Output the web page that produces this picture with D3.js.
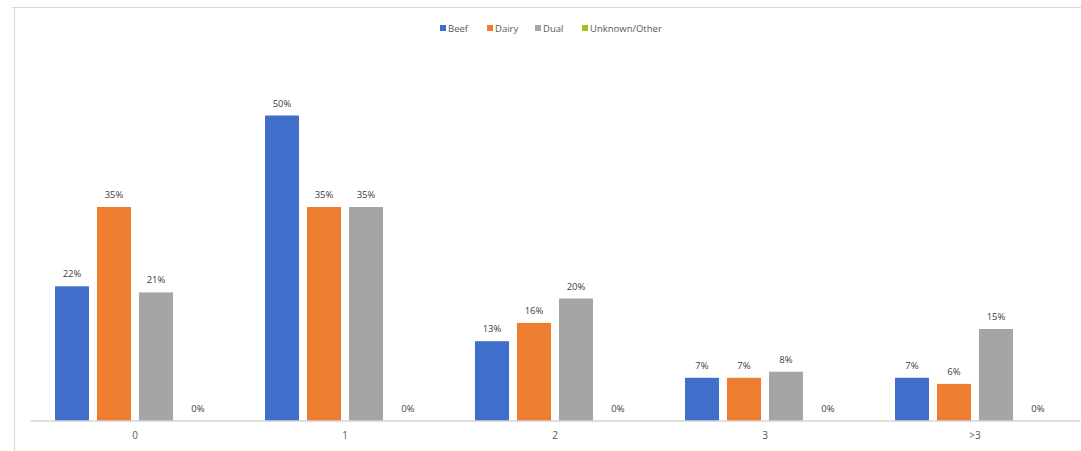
<!DOCTYPE html>
<html>
<head>
<meta charset="utf-8">
<script src="https://cdn.jsdelivr.net/npm/d3@7"></script>
<style>
  html, body { margin: 0; padding: 0; background: #fff; }
  svg { display: block; font-family: "Open Sans", "Noto Sans", sans-serif; }
</style>
</head>
<body>
<svg id="chart" width="1081" height="451"></svg>
<script>
// Share of animals by count, per herd type
const categories = ["0", "1", "2", "3", ">3"];
const seriesNames = ["Beef", "Dairy", "Dual", "Unknown/Other"];
const beef    = [22, 50, 13, 7, 7];
const dairy   = [35, 35, 16, 7, 6];
const dual    = [21, 35, 20, 8, 15];
const unknown = [0, 0, 0, 0, 0];
const seriesColors = ["#3F6FCB", "#ED7D31", "#A5A5A5", "#9BC41C"];

const seriesValues = [beef, dairy, dual, unknown];

const svg = d3.select("#chart");

// chart frame
svg.append("line").attr("x1", 12).attr("x2", 1081).attr("y1", 7.5).attr("y2", 7.5)
  .attr("stroke", "#d9d9d9").attr("stroke-width", 1.2);
svg.append("line").attr("x1", 14.5).attr("x2", 14.5).attr("y1", 7).attr("y2", 451)
  .attr("stroke", "#d9d9d9").attr("stroke-width", 1.2);

const x0 = d3.scaleBand().domain(categories).range([30, 1080]).padding(0);
const x1 = d3.scaleBand().domain(seriesNames).range([25, 185]).paddingInner(0.19).paddingOuter(0);
const y = d3.scaleLinear().domain([0, 60]).range([420.5, 54.5]);

const groups = svg.append("g").selectAll("g")
  .data(categories)
  .join("g")
  .attr("transform", d => `translate(${x0(d)},0)`);

groups.selectAll("rect")
  .data((c, i) => seriesNames.map((s, k) => ({ s, v: seriesValues[k][i], k })))
  .join("rect")
  .attr("x", d => x1(d.s))
  .attr("width", x1.bandwidth())
  .attr("y", d => y(d.v))
  .attr("height", d => y(0) - y(d.v))
  .attr("fill", d => seriesColors[d.k]);

groups.selectAll("text.val")
  .data((c, i) => seriesNames.map((s, k) => ({ s, v: seriesValues[k][i], k })))
  .join("text")
  .attr("class", "val")
  .attr("x", d => x1(d.s) + x1.bandwidth() / 2)
  .attr("y", d => y(d.v) - 9)
  .attr("text-anchor", "middle")
  .attr("font-size", 9.5)
  .attr("fill", "#404040")
  .text(d => d.v + "%");

// category axis
const xAxis = svg.append("g")
  .attr("transform", `translate(0,${y(0)})`)
  .call(d3.axisBottom(x0).tickSize(0).tickPadding(11));
xAxis.select(".domain").attr("stroke", "#bfbfbf").attr("stroke-width", 1);
xAxis.selectAll("text").attr("font-size", 10).attr("fill", "#595959")
  .attr("font-family", "\"Open Sans\", sans-serif");

// legend
const legendX = d3.scaleOrdinal().domain(seriesNames).range([440, 487, 535, 582]);
const legend = svg.append("g").selectAll("g")
  .data(seriesNames)
  .join("g")
  .attr("transform", d => `translate(${legendX(d)},25)`);
legend.append("rect").attr("width", 6).attr("height", 6)
  .attr("fill", (d, i) => seriesColors[i]);
legend.append("text").attr("x", 8).attr("y", 6.5)
  .attr("font-size", 9.5).attr("fill", "#595959")
  .text(d => d);
</script>
</body>
</html>
